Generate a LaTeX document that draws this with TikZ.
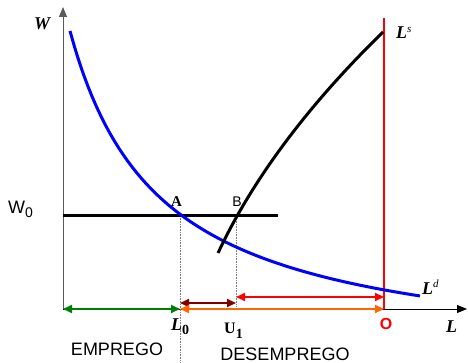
\documentclass[tikz,border=0pt]{standalone}
\usepackage{fontspec}
\setmainfont{Liberation Serif}
\setsansfont{Liberation Sans}
\usetikzlibrary{arrows.meta}
\definecolor{dgreen}{RGB}{0,128,0}
\definecolor{dred}{RGB}{128,0,0}
\definecolor{orng}{RGB}{255,102,0}
\definecolor{axgray}{RGB}{90,90,90}
\tikzset{
  dbl/.style={line width=1.8pt,{Triangle[length=9pt,width=8pt]}-{Triangle[length=9pt,width=8pt]}},
  guide/.style={densely dotted,line width=0.6pt,gray},
  serlab/.style={inner sep=0pt,anchor=base west,font=\fontsize{18}{18}\selectfont\bfseries\itshape},
  sanslab/.style={inner sep=0pt,anchor=base,font=\fontsize{18}{18}\selectfont\sffamily},
}
\begin{document}
\begin{tikzpicture}[x=1pt,y=-1pt]
\useasboundingbox (0,0) rectangle (468,363);
% axes
\coordinate (orig) at (63,309);
\coordinate (ytop) at (63,7);
\coordinate (xend) at (467,309);
\draw[axgray,line width=1pt,-{Triangle[length=10pt,width=8pt]}] (orig) -- (ytop);
\draw[black,line width=1pt,-{Triangle[length=10pt,width=8pt]}] (orig) -- (xend);
% guides
\coordinate (A) at (180,216);
\coordinate (B) at (236,216);
\coordinate (Adown) at (180,363);
\coordinate (Bdown) at (236,306);
\draw[guide] (A) -- (Adown);
\draw[guide] (B) -- (Bdown);
% red vertical
\coordinate (Otop) at (384,18);
\coordinate (Obot) at (384,309);
\draw[red,line width=1.6pt] (Otop) -- (Obot);
% W0 line
\coordinate (w0l) at (63,216);
\coordinate (w0r) at (278,216);
\draw[black,line width=3pt] (w0l) -- (w0r);
% demand curve (hyperbola)
\draw[blue,line width=3pt,line join=round] plot[domain=70:420,samples=80,variable=\t]
 ({\t},{364.1-299.84/((\t+20)/100)});
% supply curve (parabola in W)
\draw[black,line width=3pt,line join=round] plot[domain=253:32,samples=60,variable=\u]
 ({417.07-1.105*\u+12.58*(\u/100)*(\u/100)},{\u});
% double arrows
\coordinate (r1) at (236,297); \coordinate (r2) at (384,297);
\coordinate (d1) at (180,303); \coordinate (d2) at (236,303);
\coordinate (o1) at (180,309); \coordinate (o2) at (384,309);
\coordinate (g1) at (63,309);  \coordinate (g2) at (180,309);
\draw[dbl,red] (r1) -- (r2);
\draw[dbl,dred] (d1) -- (d2);
\draw[dbl,orng] (o1) -- (o2);
\draw[dbl,dgreen] (g1) -- (g2);
% labels
\node[serlab] (lW) at (34,30) {W};
\node[inner sep=0pt,anchor=base west,font=\fontsize{18}{18}\selectfont\sffamily] (lW0) at (8,214) {W\raisebox{-4pt}{\fontsize{14}{14}\selectfont 0}};
\node[inner sep=0pt,anchor=base,font=\fontsize{15}{15}\selectfont\bfseries] (lA) at (176.5,207) {A};
\node[inner sep=0pt,anchor=base,font=\fontsize{14}{14}\selectfont\sffamily] (lB) at (237,207) {B};
\node[serlab] (lLs) at (396,39) {L\raisebox{6pt}{\fontsize{11}{11}\selectfont\mdseries s}};
\node[serlab] (lLd) at (422,294) {L\raisebox{6pt}{\fontsize{11}{11}\selectfont\mdseries d}};
\node[serlab] (lL0) at (171,330) {L\raisebox{-4pt}{\fontsize{14}{14}\selectfont\upshape 0}};
\node[inner sep=0pt,anchor=base west,font=\fontsize{16}{16}\selectfont\bfseries] (lU1) at (224,333) {U\raisebox{-5pt}{\fontsize{14}{14}\selectfont 1}};
\node[inner sep=0pt,anchor=base,font=\fontsize{16}{16}\selectfont\sffamily\bfseries,text=red] (lO) at (386,329) {O};
\node[serlab] (lL) at (446,332) {L};
\node[sanslab] (lEmp) at (117,355) {EMPREGO};
\node[sanslab] (lDes) at (285,360.5) {DESEMPREGO};
\end{tikzpicture}
\end{document}
